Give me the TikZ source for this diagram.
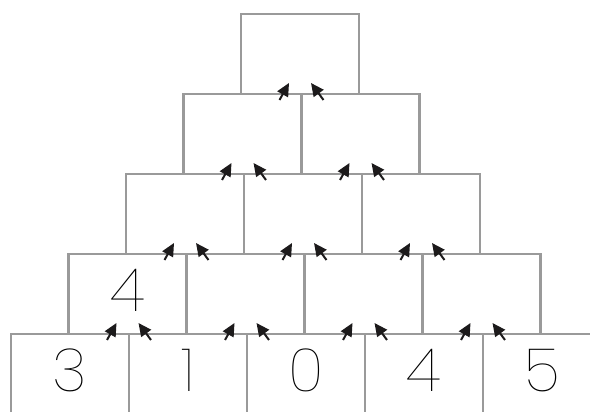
\documentclass[tikz,border=0pt]{standalone}
\usepackage{fontspec}
\usepackage{tikz}
\usetikzlibrary{arrows.meta, positioning}
\newfontfamily\numfont{Poppins Thin}
\definecolor{boxgray}{HTML}{9A9A9A}
\definecolor{arrowblack}{HTML}{1C1A1B}
\newcommand{\PairArrows}[3]{%
  \draw[arr] ([shift={(-22pt,-6pt)}]#1.north east) -- ([shift={(-11pt,11pt)}]#3.south);
  \draw[arr] ([shift={(22pt,-6pt)}]#2.north west) -- ([shift={(11pt,11pt)}]#3.south);}
\begin{document}
\begin{tikzpicture}[
      x=1pt, y=1pt,
      node distance=0pt,
      box/.style={rectangle, draw=boxgray, line width=2.7pt,
                  minimum width=118pt, minimum height=80pt,
                  inner sep=0pt, outer sep=0pt, text depth=7pt,
                  font=\numfont\fontsize{60}{60}\selectfont},
      arr/.style={-{Triangle[length=13pt, width=12pt]}, line width=2pt, arrowblack}
    ]
      \clip (0,0) rectangle (590,412);
      % bottom row
      \node[box] (e1) at (70,38) {3};
      \node[box, right=of e1] (e2) {1};
      \node[box, right=of e2] (e3) {0};
      \node[box, right=of e3] (e4) {4};
      \node[box, right=of e4] (e5) {5};
      % fourth row
      \node[box, above right=0pt and -60.5pt of e1] (d1) {4};
      \node[box, right=of d1] (d2) {};
      \node[box, right=of d2] (d3) {};
      \node[box, right=of d3] (d4) {};
      % third row
      \node[box, above right=0pt and -60.5pt of d1] (c1) {};
      \node[box, right=of c1] (c2) {};
      \node[box, right=of c2] (c3) {};
      % second row
      \node[box, above right=0pt and -60.5pt of c1] (b1) {};
      \node[box, right=of b1] (b2) {};
      % top
      \node[box, above right=0pt and -60.5pt of b1] (a) {};
      \PairArrows{e1}{e2}{d1}
      \PairArrows{e2}{e3}{d2}
      \PairArrows{e3}{e4}{d3}
      \PairArrows{e4}{e5}{d4}
      \PairArrows{d1}{d2}{c1}
      \PairArrows{d2}{d3}{c2}
      \PairArrows{d3}{d4}{c3}
      \PairArrows{c1}{c2}{b1}
      \PairArrows{c2}{c3}{b2}
      \PairArrows{b1}{b2}{a}
    \end{tikzpicture}
\end{document}
